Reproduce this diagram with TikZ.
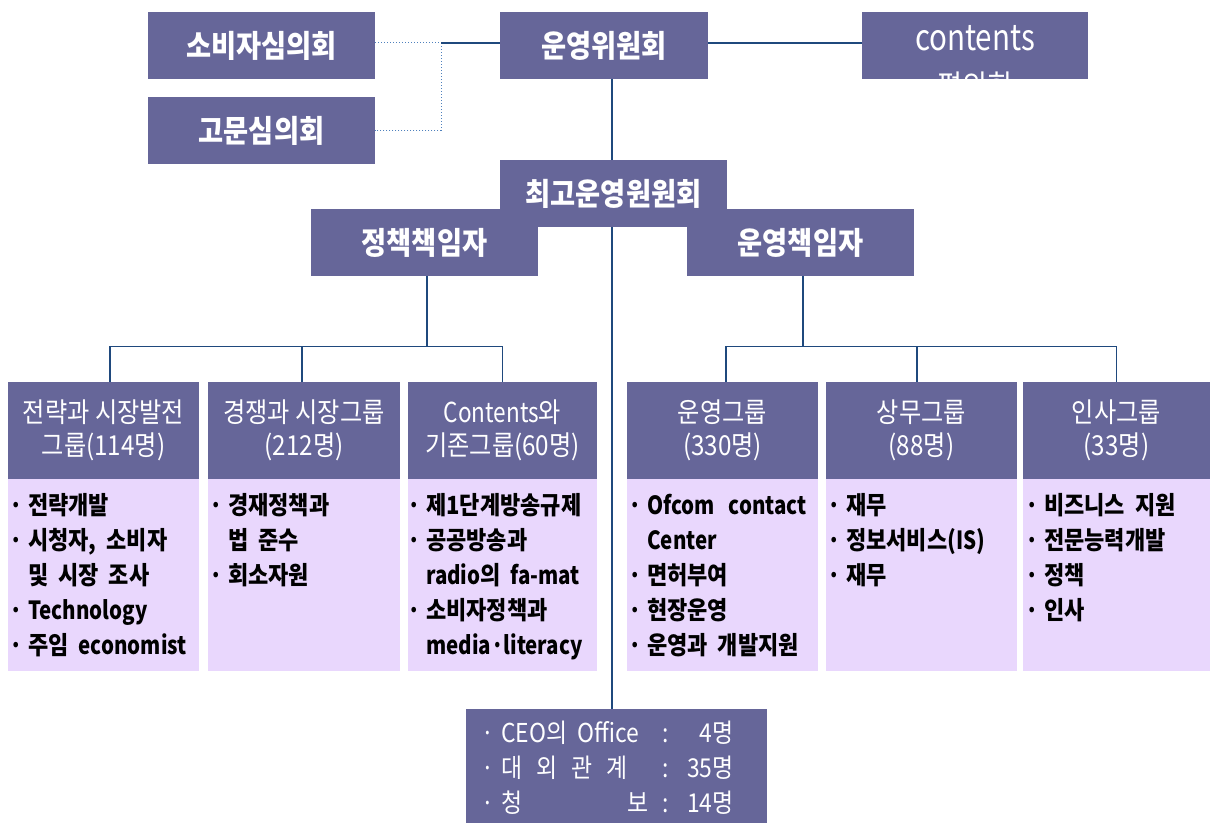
\documentclass[tikz,border=0pt]{standalone}
\usepackage{fontspec}
\setmainfont[FakeStretch=0.88]{Noto Sans CJK KR}
\newfontfamily\latf[FakeStretch=0.82]{Noto Sans CJK KR}
\newcommand\lat[1]{{\latf #1}}
\newcommand\bu{\makebox[6pt]{·}}
\usetikzlibrary{backgrounds}
\definecolor{hdr}{RGB}{102,102,153}
\definecolor{bdy}{RGB}{233,215,253}
\definecolor{ln}{RGB}{31,73,125}
\definecolor{dln}{RGB}{79,129,189}
\tikzset{
  topbox/.style={fill=hdr, text=white, inner sep=0pt, minimum height=67pt, minimum width=227pt,
    font=\fontsize{31}{36}\selectfont\bfseries},
  ghead/.style={fill=hdr, text=white, inner sep=0pt, minimum height=97pt, align=center,
    font=\fontsize{27.5}{33}\selectfont},
  gbody/.style={fill=bdy, inner sep=0pt, minimum height=192pt, anchor=north west},
  btext/.style={anchor=north west, inner sep=0pt, text=black,
    font=\fontsize{25}{35}\selectfont\bfseries},
  conn/.style={draw=ln, line width=1.3pt},
  dconn/.style={draw=dln, line width=1pt, dotted},
}
\begin{document}
\begin{tikzpicture}[x=1pt,y=-1pt]
\useasboundingbox (0,0) rectangle (1210,824);
% top level
\node[topbox] (cons) at (261.5,45.5) {소비자심의회};
\node[topbox] (adv) at (261.5,130.5) {고문심의회};
\node[topbox, minimum width=208pt] (opc) at (604,45.5) {운영위원회};
\node[topbox, minimum width=226pt] (cnt) at (975,45.5) {};
\begin{scope}
  \clip (cnt.south west) rectangle (cnt.north east);
  \node[anchor=base, text=white, inner sep=0pt, font=\fontsize{36}{40}\selectfont\latf] (cnta) at (975,51) {contents};
  \node[anchor=base, text=white, inner sep=0pt, font=\fontsize{31}{40}\selectfont] (cntb) at (975,98) {평의회};
\end{scope}
\node[topbox] (ceo) at (613.5,193.5) {최고운영원원회};
\node[topbox] (pol) at (424.5,242.5) {정책책임자};
\node[topbox] (ops) at (800.5,242.5) {운영책임자};
% group headers
\node[ghead, minimum width=191pt] (g1) at (103.5,430.5) {전략과 시장발전\\그룹(114명)};
\node[ghead, minimum width=192pt] (g2) at (304,430.5) {경쟁과 시장그룹\\(212명)};
\node[ghead, minimum width=189pt] (g3) at (502.5,430.5) {\lat{Contents}와\\기존그룹(60명)};
\node[ghead, minimum width=191pt] (g4) at (722.5,430.5) {운영그룹\\(330명)};
\node[ghead, minimum width=191pt] (g5) at (921.5,430.5) {상무그룹\\(88명)};
\node[ghead, minimum width=187pt] (g6) at (1116.5,430.5) {인사그룹\\(33명)};
% group bodies
\node[gbody, minimum width=191pt] (b1) at (8,479) {};
\node[gbody, minimum width=192pt] (b2) at (208,479) {};
\node[gbody, minimum width=189pt] (b3) at (408,479) {};
\node[gbody, minimum width=191pt] (b4) at (627,479) {};
\node[gbody, minimum width=191pt] (b5) at (826,479) {};
\node[gbody, minimum width=187pt] (b6) at (1023,479) {};
\node[btext] (t1) at (13,489.5) {\begin{tabular}{@{}l@{\hspace{9pt}}l@{}}
\bu & 전략개발\\ \bu & 시청자,\hspace{10pt}소비자\\ & 및\hspace{10pt}시장\hspace{10pt}조사\\ \bu & \lat{Technology}\\ \bu & 주임\hspace{10pt}\lat{economist}\end{tabular}};
\node[btext] (t2) at (213,489.5) {\begin{tabular}{@{}l@{\hspace{9pt}}l@{}}
\bu & 경재정책과\\ & 법\hspace{10pt}준수\\ \bu & 회소자원\end{tabular}};
\node[btext] (t3) at (411,489.5) {\begin{tabular}{@{}l@{\hspace{9pt}}l@{}}
\bu & 제1단계방송규제\\ \bu & 공공방송과\\ & \lat{radio}의\hspace{10pt}\lat{fa-mat}\\ \bu & 소비자정책과\\ & \lat{media·literacy}\end{tabular}};
\node[btext] (t4) at (632,489.5) {\begin{tabular}{@{}l@{\hspace{9pt}}l@{}}
\bu & \lat{Ofcom}\hspace{14pt}\lat{contact}\\ & \lat{Center}\\ \bu & 면허부여\\ \bu & 현장운영\\ \bu & 운영과\hspace{10pt}개발지원\end{tabular}};
\node[btext] (t5) at (831,489.5) {\begin{tabular}{@{}l@{\hspace{9pt}}l@{}}
\bu & 재무\\ \bu & 정보서비스(\lat{IS})\\ \bu & 재무\end{tabular}};
\node[btext] (t6) at (1029,489.5) {\begin{tabular}{@{}l@{\hspace{9pt}}l@{}}
\bu & 비즈니스\hspace{10pt}지원\\ \bu & 전문능력개발\\ \bu & 정책\\ \bu & 인사\end{tabular}};
% CEO office box
\node[fill=hdr, inner sep=0pt, minimum width=301pt, minimum height=114pt] (off) at (616.5,766) {};
\node[anchor=west, inner sep=0pt, text=white, font=\fontsize{26}{35}\selectfont] (offt) at (485,770) {%
\begin{tabular}{@{}l@{\hspace{10pt}}l@{}l@{}l@{}}
\bu & \makebox[161pt][l]{CEO의\hspace{10pt}Office} & : & \makebox[65pt][r]{4명}\\
\bu & \makebox[161pt][l]{\makebox[126pt][s]{대 외 관 계}} & : & \makebox[65pt][r]{35명}\\
\bu & \makebox[161pt][l]{\makebox[147pt][s]{청\hfill 보}} & : & \makebox[65pt][r]{14명}
\end{tabular}};
% connectors
\begin{scope}[on background layer]
\fill[white] (0,0) rectangle (1210,824);
\coordinate (j) at (441,43);
\draw[dconn] (cons.east |- j) -- (j) -- (j |- adv.east) -- (adv.east);
\draw[conn] (j) -- (opc.west |- j);
\draw[conn] (opc.east |- j) -- (cnt.west |- j);
\draw[conn] ([xshift=8pt]opc.south) -- ([xshift=8pt]opc.south |- off.north);
\draw[conn] ([xshift=2.5pt]pol.south) -- +(0,71);
\draw[conn] ([xshift=6.5pt]g1.north) -- +(0,-35) -| (g3.north);
\draw[conn] ([xshift=-2pt]g2.north) -- +(0,-35);
\draw[conn] ([xshift=2.5pt]ops.south) -- +(0,71);
\draw[conn] ([xshift=3.5pt]g4.north) -- +(0,-35) -| (g6.north);
\draw[conn] ([xshift=-4.5pt]g5.north) -- +(0,-35);
\end{scope}
\end{tikzpicture}
\end{document}
